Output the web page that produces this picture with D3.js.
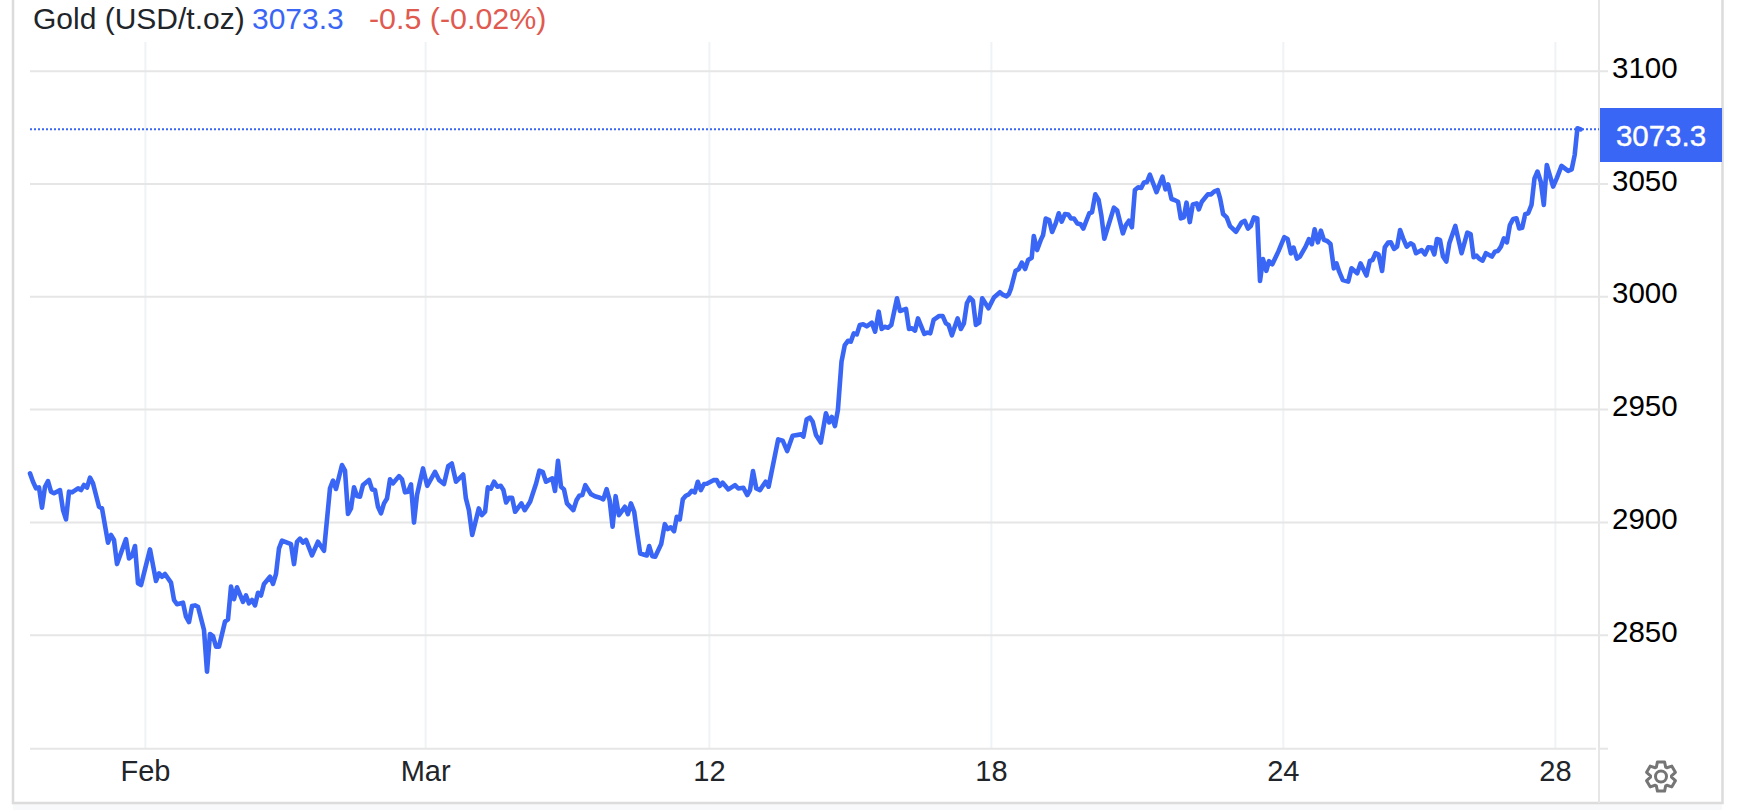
<!DOCTYPE html>
<html>
<head>
<meta charset="utf-8">
<script src="https://cdn.jsdelivr.net/npm/d3@7"></script>
<style>
  html, body { margin: 0; padding: 0; background: #fff; }
  svg { display: block; }
  text { font-family: "Liberation Sans", Arial, sans-serif; }
</style>
</head>
<body>
<script>
var width = 1738
var height = 810

var title = "Gold (USD/t.oz)"
var lastLabel = "3073.3"
var changeLabel = "-0.5 (-0.02%)"

var yTicks = [2850, 2900, 2950, 3000, 3050, 3100]
var xTickBars = [38.3, 131.7, 226.3, 320.3, 417.6, 508.3]
var xTickLabels = ["Feb", "Mar", "12", "18", "24", "28"]

// bar number of each reading, then the price read at that bar
var bars = [0,1,2,3,4,5,6,7,8,10,11,12,13,14,16,17,18,19,20,21,23,24,26,27,28,29,32,33,34,35,36,37,40,42,43,44,45,47,48,49,51,52,53,54,55,56,58,59,60,61,62,63,65,66,67,68,69,71,72,73,74,75,76,77,78,80,81,82,83,84,87,88,89,90,91,92,94,96,98,100,101,102,104,105,106,107,108,109,110,111,113,114,115,116,117,118,119,120,121,123,124,125,126,127,128,129,
  131,132.4,135,136.4,138,139.4,140.6,142,144.4,145.3,146.3,147.4,149.6,150.6,151.7,152.6,153.6,154.7,155.8,156.9,157.8,158.7,159.7,160.7,161.7,163.8,164.9,166.7,168.7,169.8,170.9,172,174.1,175,176,177,178,179,181.1,182.2,183.1,184.1,185.1,187,188.3,190,191.1,192.2,193.2,194.2,195.2,196.3,198.3,199.3,200.3,201.4,202.4,203.4,205.6,206.4,207.4,208.4,210.4,211.6,212.6,213.6,214.7,215.6,216.6,217.6,218.6,219.6,220.6,221.6,222.6,223.6,224.7,225.6,227.8,228.9,229.9,230.9,232.8,235,236.1,237.8,239.1,240,241,242.1,243.3,245.2,246.2,249.4,250.9,252.4,254.2,257,257.8,258.9,260,260.9,262,263.6,265.3,266.4,267.3,268.3,269.3,270.5,271.6,272.7,273.6,274.6,275.6,276.6,277.7,278.9,280.6,281.7,282.9,283.9,284.9,286,287.1,289,290,292,293,294,295,296,298.1,299.1,300.1,301.2,303.1,304.2,305.3,306.2,307.3,309.2,310.3,311.3,312.3,313.3,314.3,315.3,316.4,317.4,319.5,321.3,323.3,324.4,325.5,326.3,
  327,328.5,329.6,330.6,331.7,332.7,333.9,334.6,335.7,336.9,337.7,338.6,339.7,340.7,341.9,342.9,343.9,345,346.1,347,348,349.1,350.2,351.1,353.1,354,355.1,356.2,357.1,358.1,361.3,362.4,364.3,365.3,366.3,367.3,368.3,369.4,370.4,371.3,372.3,373.3,375.5,377.5,378.5,379.4,380.5,381.5,382.7,383.6,384.6,385.5,386.6,387.6,388.9,389.6,390.6,392.6,393.7,394.7,395.9,396.7,397.7,398.9,400,402,403.9,404.9,406,406.9,408,409.1,
  410,411,412.1,413,414.1,416.1,418.1,419.2,420.3,421.2,422.3,423.3,425.2,426.3,427.3,428.2,429.3,430.3,431.3,432.4,433.5,434.6,435.5,436.4,437.6,439.4,440.5,442.4,443.5,445.5,446.6,447.5,448.5,449.5,450.7,451.6,452.7,453.6,454.7,455.7,456.7,457.7,458.9,460.2,461.1,462,463.9,465,466.1,467.2,468.1,469,470,471,472.1,473.1,475.1,477.2,479.1,480.2,481.2,482.2,483.1,484.2,485.3,487.3,488.3,489.3,490.3,491.3,492.3,493.3,494.4,495.5,496.4,497.4,498.4,499.4,500.5,501.5,502.5,503.6,504.6,505.6,507.7,508.9,510.5,512.7,513.9,514.9,515.8,516.9]

var prices = [2921.5,2917.8,2914.9,2915.3,2906.3,2915.6,2918.1,2913.4,2912.7,2914.1,2905.3,2901.1,2913.4,2913.1,2914.9,2914.1,2916.4,2915.2,2919.6,2917.1,2906.7,2906,2890.8,2894.2,2892,2881.3,2892.4,2883.8,2884.9,2889.3,2872.8,2872,2887.8,2873.8,2877.2,2875.7,2876.9,2873.1,2865.4,2863.5,2864.2,2858,2855.6,2862.7,2863,2862.4,2852.1,2833.6,2850.3,2849.4,2844.7,2844.7,2855.8,2856.8,2871.3,2865.7,2871,2864.6,2867.4,2863.9,2865.4,2863,2868.6,2867.4,2872.5,2875.7,2872.5,2876.9,2888.3,2891.7,2890.1,2881.3,2891.2,2892.6,2890.8,2892,2885.2,2891.2,2887.2,2914.9,2918.3,2914.6,2925.2,2922.7,2903.5,2906,2915.3,2911.5,2911.2,2916.4,2918.6,2914.4,2914.1,2906.7,2903.8,2908.2,2910.4,2918.9,2917.1,2920.3,2918.9,2913.1,2913.4,2916.6,2899.7,2911.9,
  2923.7,2916,2922.2,2918.5,2916.8,2924.7,2925.9,2917.8,2921,2910.4,2905.2,2894.2,2906,2903,2904.5,2915.3,2914.7,2917.8,2915.6,2916,2914.1,2908.6,2910.7,2910.7,2904.5,2908.2,2905.2,2908.9,2917,2922.7,2922.2,2917.8,2919.3,2913.7,2927.1,2915.6,2914.4,2908.2,2905.2,2909.7,2911.6,2911.9,2916.3,2912.3,2911.4,2910.7,2910,2914.5,2909.7,2897.9,2911.4,2903,2906.7,2903.5,2908.2,2904.5,2894.9,2886,2885.1,2889.3,2884.8,2884.6,2890.2,2899,2896.8,2897.6,2895.9,2902.3,2901.1,2910,2911.6,2912.2,2913.8,2913.1,2917.8,2914.1,2916.8,2916.9,2918.5,2918.5,2915.9,2917.4,2914.4,2916.3,2914.8,2915.1,2911.9,2914.1,2922.5,2914.8,2914.1,2917.8,2915.6,2936.6,2936,2931.4,2938.2,2938.8,2937.8,2945.5,2946.2,2944.4,2938.5,2935.2,2948.1,2944.1,2946.5,2942.5,2949.6,2971,2978.4,2980.3,2979.9,2983.6,2983.1,2987.3,2987.6,2986.7,2988.3,2984.3,2993.2,2985.5,2986.5,2986.1,2987.3,2999.1,2993.5,2994.4,2985.5,2985.8,2984.8,2990.2,2983.3,2983.9,2983.6,2989.5,2991.3,2991.3,2988,2987.3,2982.7,2990.2,2985.5,2988,2996.9,2999.4,2998.1,2987.3,2988.3,2999.1,2994.7,2999.5,3001.8,3000.6,3000,3001,
  3003.5,3011.2,3012.1,3014.9,3012.1,3016.1,3017.1,3026.7,3020.5,3024.9,3027.2,3034.5,3033.8,3028.5,3032.3,3036.8,3033.1,3036.5,3036.3,3034.5,3034.5,3032.3,3031.9,3030,3036.8,3037.2,3045.2,3042.7,3036,3025.5,3039.3,3038,3027.9,3031.6,3033.5,3030.6,3047.1,3048.3,3048,3050.4,3050.6,3053.9,3046.2,3053,3047.4,3049.6,3043.1,3042.7,3041.9,3034.5,3035,3041.5,3032.9,3040.7,3041.2,3038.5,3041.9,3045.2,3045.2,3046.4,3047.1,3043.4,3036.5,3035,3031.1,3028.6,3032.8,3033.4,3030,3031.1,3035,3034.5,
  3006.8,3016.5,3011.3,3015.6,3014.2,3019.8,3026.2,3025.4,3019,3021.6,3016.7,3017.6,3022,3025.3,3023.1,3029.7,3023.9,3029.1,3025,3024.5,3023.2,3012.4,3014.6,3010.9,3007.2,3006.5,3012.4,3010.2,3014.6,3009.2,3015.7,3016.1,3019.1,3018.6,3011.2,3021.7,3023.8,3023.9,3021,3022,3029.4,3025.7,3022,3023.5,3022.8,3019.1,3020.5,3018.6,3021.7,3021.6,3018.6,3025.4,3025,3017.6,3015.4,3023.5,3031.2,3019.1,3028.2,3027.6,3017.3,3018,3016.6,3015.8,3019.1,3017.6,3019.8,3020.1,3022,3025.7,3023.9,3031.6,3034.3,3034.6,3030.1,3030.4,3036.4,3036.8,3040.5,3052.3,3055.3,3050.8,3040.5,3058.2,3048.6,3052.3,3057.8,3055.6,3056.3,3062.7,3074.5,3074]

var data = bars.map(function(b, i){ return {bar: b, price: prices[i]} })

var xScale = d3.scaleLinear().domain([0, 519]).range([30, 1587])
var yScale = d3.scaleLinear().domain([2800, 3100]).range([747.5, 70.7])

var svg = d3.select("body").append("svg")
    .attr("width", width)
    .attr("height", height)

// page frame
svg.append("rect").attr("x", 13).attr("y", 803).attr("width", 1709).attr("height", 7).attr("fill", "#f8f9fa")
svg.append("path").attr("d", "M13,0V803H1722.5V0").attr("fill", "none").attr("stroke", "#dcdcdc").attr("stroke-width", 2.5)

// vertical grid + date labels
var xAxis = d3.axisBottom(xScale)
    .tickValues(xTickBars)
    .tickSize(706)
    .tickPadding(12)
    .tickFormat(function(d, i){ return xTickLabels[i] })

var xG = svg.append("g").attr("transform", "translate(0,42)").call(xAxis)
xG.select(".domain").remove()
xG.selectAll("line").attr("stroke", "#eff3f6").attr("stroke-width", 2)
xG.selectAll("text").attr("font-size", 29).attr("fill", "#212529")
    .attr("font-family", "Liberation Sans")

// horizontal grid + price labels
var yAxis = d3.axisRight(yScale)
    .tickValues(yTicks)
    .tickSize(1578)
    .tickPadding(4)
    .tickFormat(d3.format("d"))

var yG = svg.append("g").attr("transform", "translate(30,0)").call(yAxis)
yG.select(".domain").remove()
yG.selectAll("line").attr("stroke", "#e6e6e6").attr("stroke-width", 2)
yG.selectAll("text").attr("font-size", 29.5).attr("fill", "#000").attr("dy", "0.22em")
    .attr("font-family", "Liberation Sans")

// bottom rule and price axis line
svg.append("line").attr("x1", 30).attr("x2", 1596).attr("y1", 748.7).attr("y2", 748.7)
    .attr("stroke", "#e6e6e6").attr("stroke-width", 2)
svg.append("line").attr("x1", 1600).attr("x2", 1608).attr("y1", 748.7).attr("y2", 748.7)
    .attr("stroke", "#e6e6e6").attr("stroke-width", 2)
svg.append("line").attr("x1", 1599).attr("x2", 1599).attr("y1", 0).attr("y2", 803)
    .attr("stroke", "#e6e6e6").attr("stroke-width", 2)

var last = data[data.length - 1]

// last price line
svg.append("line")
    .attr("x1", 30).attr("x2", 1599)
    .attr("y1", yScale(last.price)).attr("y2", yScale(last.price))
    .attr("stroke", "#3a66f6").attr("stroke-width", 2).attr("stroke-dasharray", "2 2")

var line = d3.line()
    .x(function(d){ return xScale(d.bar) })
    .y(function(d){ return yScale(d.price) })

svg.append("path").datum(data)
    .attr("d", line)
    .attr("fill", "none")
    .attr("stroke", "#3a66f6")
    .attr("stroke-width", 4.6)
    .attr("stroke-linejoin", "round")
    .attr("stroke-linecap", "round")

// last price tag
svg.append("rect").attr("x", 1600).attr("y", 108).attr("width", 122).attr("height", 54).attr("fill", "#3a66f6")
svg.append("text").attr("x", 1661).attr("y", 146).attr("text-anchor", "middle")
    .attr("font-size", 29.5).attr("fill", "#fff").attr("stroke", "#fff").attr("stroke-width", 0.4).text(lastLabel)

// header
svg.append("text").attr("x", 33).attr("y", 29).attr("font-size", 30).attr("fill", "#212529").text(title)
svg.append("text").attr("x", 252).attr("y", 29).attr("font-size", 30).attr("fill", "#3a66f6").text(lastLabel)
svg.append("text").attr("x", 369).attr("y", 29).attr("font-size", 30.4).attr("fill", "#e05a50").text(changeLabel)

// settings gear
var teeth = 6
var gearPts = []
d3.range(teeth).forEach(function(i){
  var a = i * 2 * Math.PI / teeth
  gearPts.push([a - 0.46, 10.5], [a - 0.24, 15], [a + 0.24, 15], [a + 0.46, 10.5])
})
var gear = svg.append("g").attr("transform", "translate(1661,776.5)")
gear.append("path")
    .attr("d", d3.lineRadial().curve(d3.curveLinearClosed)(gearPts))
    .attr("fill", "none").attr("stroke", "#757575").attr("stroke-width", 3).attr("stroke-linejoin", "round")
gear.append("circle").attr("r", 5.5).attr("fill", "none").attr("stroke", "#757575").attr("stroke-width", 3)
</script>
</body>
</html>
